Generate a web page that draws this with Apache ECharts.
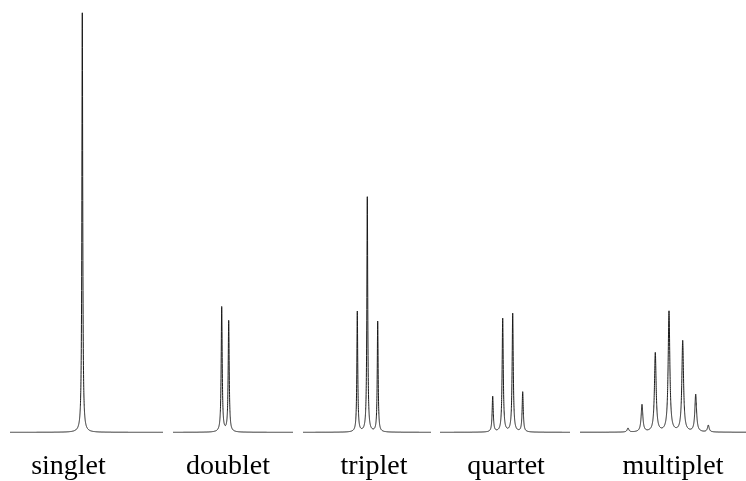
<!DOCTYPE html>
<html>
<head>
<meta charset="utf-8">
<script src="https://cdn.jsdelivr.net/npm/echarts@6/dist/echarts.min.js"></script>
<style>
  html, body { margin: 0; padding: 0; background: #fff; }
  #chart { width: 746px; height: 481px; }
</style>
</head>
<body>
<div id="chart"></div>
<script>
// Splitting patterns: one entry per multiplet
const groupNames = ['singlet', 'doublet', 'triplet', 'quartet', 'multiplet'];

// Line positions on the shift axis, per multiplet
const peakPositions = [
  [82.3],
  [221.7, 228.7],
  [357.3, 367.3, 377.7],
  [492.7, 502.7, 512.7, 522.7],
  [628.0, 642.0, 655.3, 669.0, 682.7, 695.7, 708.3]
];

// Line intensities, per multiplet
const peakHeights = [
  [419.5],
  [125.0, 111.0],
  [120.5, 235.0, 110.5],
  [35.5, 113.5, 118.5, 40.0],
  [4.0, 27.3, 79.0, 120.5, 91.0, 37.4, 6.8]
];

// Lorentzian half-widths at half-height, per multiplet
const lineWidths = [0.5, 0.6, 0.52, 0.66, 1.0];

// Extent of the baseline drawn under each multiplet
const baselineSpans = [
  [10, 163],
  [173, 293],
  [303, 431],
  [440, 570],
  [580, 746]
];

// Where each pattern's name sits along the shift axis
const labelCenters = [68.5, 228, 374, 506, 673];

const chart = echarts.init(document.getElementById('chart'), null, { renderer: 'canvas' });

// Sum of Lorentzian lines of one multiplet at shift x
function spectrum(g, x) {
  const pos = peakPositions[g], hts = peakHeights[g], w = lineWidths[g];
  let y = 0;
  for (let i = 0; i < pos.length; i++) {
    const d = x - pos[i];
    y += hts[i] * w * w / (d * d + w * w);
  }
  return y;
}

function renderMultiplet(params, api) {
  const g = api.value(0);
  const [x0, x1] = baselineSpans[g];
  const pts = [];
  const step = 0.05;
  for (let x = x0; x <= x1 + 1e-9; x += step) {
    pts.push(api.coord([x, spectrum(g, x)]));
  }
  return {
    type: 'polyline',
    shape: { points: pts },
    style: { stroke: '#1a1a1a', lineWidth: 1, fill: null },
    silent: true
  };
}

chart.setOption({
  animation: false,
  backgroundColor: '#ffffff',
  grid: { left: 0, right: 0, top: 0, bottom: 48.7 },
  xAxis: { type: 'value', min: 0, max: 746, show: false },
  yAxis: { type: 'value', min: 0, max: 432.3, show: false },
  series: [{
    type: 'custom',
    renderItem: renderMultiplet,
    data: groupNames.map((n, i) => [i]),
    clip: false
  }]
});

// Pattern names under each multiplet, placed through the x axis scale
chart.setOption({
  graphic: groupNames.map((name, i) => ({
    type: 'text',
    x: chart.convertToPixel({ xAxisIndex: 0 }, labelCenters[i]),
    y: 467,
    style: {
      text: name,
      fill: '#000',
      font: '28px "Liberation Serif", "Times New Roman", serif',
      align: 'center',
      verticalAlign: 'middle'
    }
  }))
});
</script>
</body>
</html>
